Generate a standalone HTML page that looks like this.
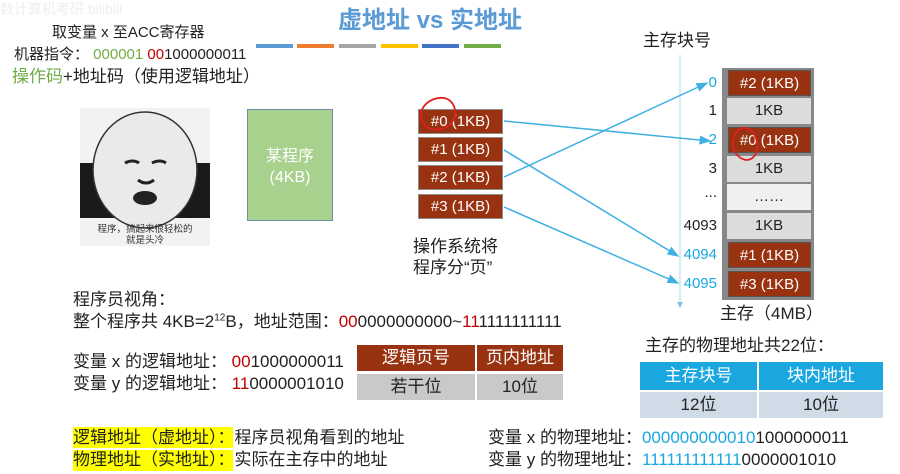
<!DOCTYPE html>
<html><head><meta charset="utf-8">
<style>
body{margin:0;width:900px;height:474px;background:#fff;position:relative;overflow:hidden;font-family:"Liberation Sans","Noto Sans CJK SC",sans-serif;color:#222}
.a{position:absolute;white-space:nowrap;line-height:1}
.t15{font-size:17px}
.r{color:#c00000}.g{color:#70ad47}.b{color:#1aa7e0}
.pg{position:absolute;left:418px;width:83px;height:23px;background:#983210;border:1px solid #8c8c8c;color:#fff;font-size:15px;text-align:center;line-height:23px}
.mm{position:absolute;left:727px;width:84px;height:26px;text-align:center;line-height:26px;font-size:15px;color:#222;background:#dcdcdc}
.mm.br{background:#983210;color:#fff;border:1px solid #555;box-sizing:border-box;left:728px;width:83px}
.n{position:absolute;width:50px;left:667px;text-align:right;font-size:15px;line-height:26px}
.bar{position:absolute;top:44px;height:4px;width:37px}
.hl{background:#ffff00}
.cell{position:absolute;font-size:17px;text-align:center}
</style></head><body>
<div class="a" style="left:0;top:2px;font-size:14px;color:#eee">数计算机考研 bilibili</div>
<div class="a" style="left:338px;top:9px;font-size:24px;color:#5b9bd5;font-weight:bold">虚地址 vs 实地址</div>
<div class="bar" style="left:256px;background:#5b9bd5"></div>
<div class="bar" style="left:297px;background:#ed7d31"></div>
<div class="bar" style="left:339px;background:#a5a5a5"></div>
<div class="bar" style="left:381px;background:#ffc000"></div>
<div class="bar" style="left:422px;background:#4472c4"></div>
<div class="bar" style="left:464px;background:#70ad47"></div>

<div class="a" style="left:52px;top:25px;font-size:15px">取变量 x 至ACC寄存器</div>
<div class="a" style="left:14px;top:47px;font-size:15px">机器指令： <span class="g">000001</span> <span class="r">00</span>1000000011</div>
<div class="a t15" style="left:12px;top:68px"><span class="g">操作码</span>+地址码（使用逻辑地址）</div>

<svg style="position:absolute;left:80px;top:108px" width="130" height="138">
<rect width="130" height="138" fill="#f2f2f2"/>
<rect y="55" width="130" height="55" fill="#1a1a1a"/>
<ellipse cx="65" cy="62" rx="52" ry="58" fill="#eaeaea" stroke="#333" stroke-width="1.5"/>
<path d="M45 55 q8 -4 14 0 M72 55 q8 -4 14 0" stroke="#222" stroke-width="3" fill="none"/>
<path d="M58 72 q8 6 16 0" stroke="#222" stroke-width="3" fill="none"/>
<ellipse cx="65" cy="90" rx="12" ry="7" fill="#222"/>
<text x="65" y="124" font-size="9.5" text-anchor="middle" fill="#333" font-family="Noto Sans CJK SC">程序，搞起来很轻松的</text>
<text x="65" y="135" font-size="9.5" text-anchor="middle" fill="#333" font-family="Noto Sans CJK SC">就是头冷</text>
</svg>

<div style="position:absolute;left:247px;top:109px;width:86px;height:112px;background:#a9d18e;border:1px solid #6f8fa8;color:#fff;font-size:16px;text-align:center;box-sizing:border-box;padding-top:36px;line-height:21px">某程序<br>(4KB)</div>

<div class="pg" style="top:109px">#0 (1KB)</div>
<div class="pg" style="top:137px">#1 (1KB)</div>
<div class="pg" style="top:165px">#2 (1KB)</div>
<div class="pg" style="top:194px">#3 (1KB)</div>
<div class="a t15" style="left:413px;top:236px;line-height:21px">操作系统将<br>程序分“页”</div>

<div class="a t15" style="left:643px;top:32px">主存块号</div>
<div style="position:absolute;left:722px;top:68px;width:92px;height:232px;background:#888"></div>
<div class="mm br" style="top:70px">#2 (1KB)</div>
<div class="mm" style="top:98px">1KB</div>
<div class="mm br" style="top:127px">#0 (1KB)</div>
<div class="mm" style="top:156px">1KB</div>
<div class="mm" style="top:184px;background:#f0f0f0">……</div>
<div class="mm" style="top:213px">1KB</div>
<div class="mm br" style="top:242px">#1 (1KB)</div>
<div class="mm br" style="top:271px">#3 (1KB)</div>
<div class="n b" style="top:70px">0</div>
<div class="n" style="top:98px">1</div>
<div class="n b" style="top:127px">2</div>
<div class="n" style="top:156px">3</div>
<div class="n" style="top:180px">...</div>
<div class="n" style="top:213px">4093</div>
<div class="n b" style="top:242px">4094</div>
<div class="n b" style="top:271px">4095</div>
<div class="a t15" style="left:720px;top:305px">主存（4MB）</div>

<svg style="position:absolute;left:0;top:0" width="900" height="474">
<defs><marker id="ar" markerWidth="8" markerHeight="8" refX="7" refY="4" orient="auto"><path d="M0,1 L8,4 L0,7z" fill="#3fb0e3"/></marker></defs>
<line x1="680" y1="55" x2="680" y2="305" stroke="#a8d8ee" stroke-width="1"/>
<path d="M677,302 L680,308 L683,302z" fill="#7cc4e6"/>
<g stroke="#3fb0e3" stroke-width="1.5" fill="none" marker-end="url(#ar)">
<line x1="504" y1="121" x2="710" y2="141"/>
<line x1="504" y1="177" x2="707" y2="83"/>
<line x1="504" y1="150" x2="678" y2="256"/>
<line x1="504" y1="207" x2="678" y2="283"/>
</g>
<path d="M424,124 C414,110 430,96 444,98 C456,100 460,118 448,126 C440,132 428,130 424,124" stroke="#e02020" stroke-width="1.8" fill="none"/>
<path d="M738,130 C728,142 734,158 746,160 C758,160 760,144 754,134 C750,128 742,126 738,130" stroke="#e02020" stroke-width="1.8" fill="none"/>
</svg>

<div class="a t15" style="left:73px;top:291px">程序员视角：</div>
<div class="a t15" style="left:73px;top:313px">整个程序共 4KB=2<sup style="font-size:10px">12</sup>B，地址范围：<span class="r">00</span>0000000000~<span class="r">11</span>1111111111</div>
<div class="a t15" style="left:73px;top:353px">变量 x 的逻辑地址： <span class="r">00</span>1000000011</div>
<div class="a t15" style="left:73px;top:375px">变量 y 的逻辑地址： <span class="r">11</span>0000001010</div>

<div class="cell" style="left:357px;top:345px;width:118px;height:26px;background:#983210;color:#fff;line-height:26px">逻辑页号</div>
<div class="cell" style="left:477px;top:345px;width:86px;height:26px;background:#983210;color:#fff;line-height:26px">页内地址</div>
<div class="cell" style="left:357px;top:374px;width:118px;height:26px;background:#c9c9c9;line-height:26px">若干位</div>
<div class="cell" style="left:477px;top:374px;width:86px;height:26px;background:#c9c9c9;line-height:26px">10位</div>

<div class="a t15" style="left:645px;top:337px">主存的物理地址共22位：</div>
<div class="cell" style="left:640px;top:362px;width:117px;height:28px;background:#1aa7e0;color:#fff;line-height:28px">主存块号</div>
<div class="cell" style="left:759px;top:362px;width:124px;height:28px;background:#1aa7e0;color:#fff;line-height:28px">块内地址</div>
<div class="cell" style="left:640px;top:392px;width:117px;height:26px;background:#cfdbe6;line-height:26px">12位</div>
<div class="cell" style="left:759px;top:392px;width:124px;height:26px;background:#cfdbe6;line-height:26px">10位</div>

<div class="a hl" style="left:73px;top:427px;width:160px;height:21px"></div>
<div class="a hl" style="left:73px;top:450px;width:160px;height:21px"></div>
<div class="a t15" style="left:73px;top:429px">逻辑地址（虚地址）：程序员视角看到的地址</div>
<div class="a t15" style="left:73px;top:451px">物理地址（实地址）：实际在主存中的地址</div>
<div class="a t15" style="left:488px;top:429px">变量 x 的物理地址：<span class="b">000000000010</span>1000000011</div>
<div class="a t15" style="left:488px;top:451px">变量 y 的物理地址：<span class="b">111111111111</span>0000001010</div>
</body></html>
